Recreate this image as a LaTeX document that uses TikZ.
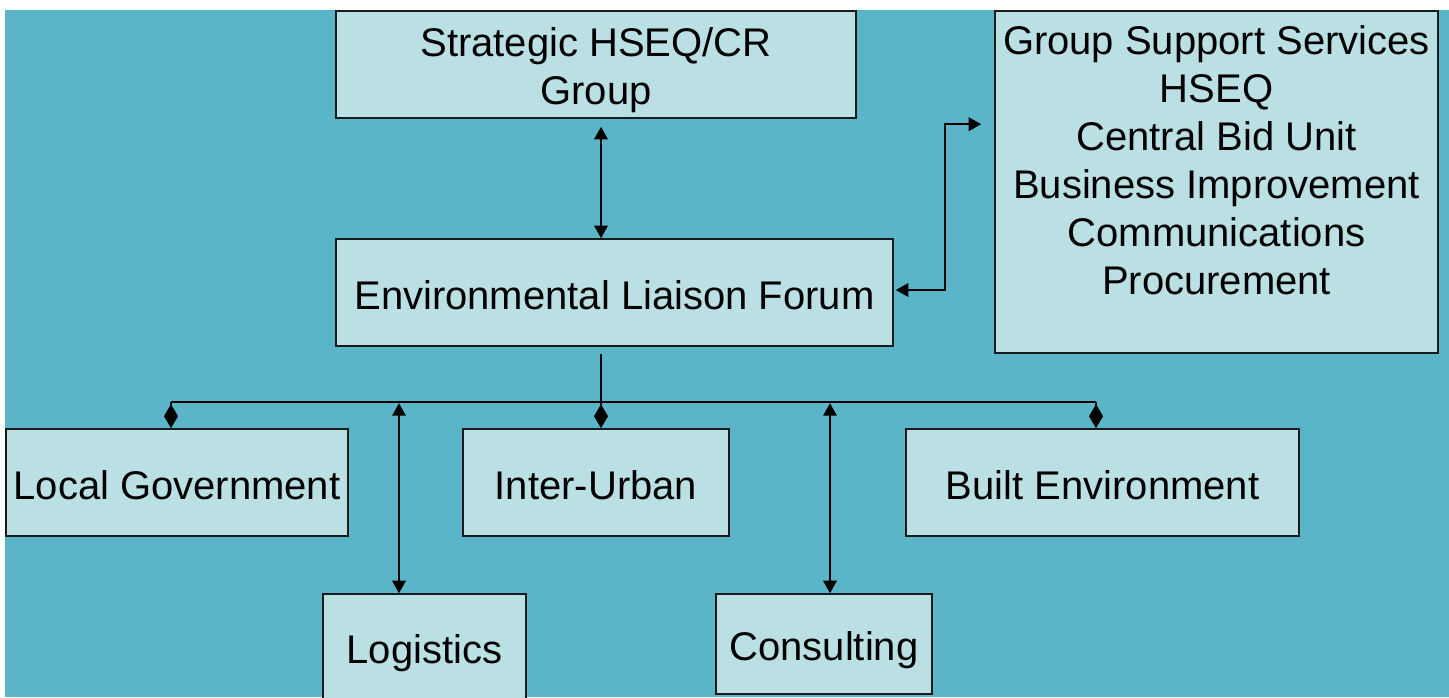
\documentclass[tikz,border=0pt]{standalone}
\usepackage{fontspec}
\setmainfont{Liberation Sans}
\usetikzlibrary{arrows.meta,calc}

\definecolor{slideteal}{HTML}{5AB5C8}
\definecolor{boxfill}{HTML}{BBE0E4}
\definecolor{boxline}{HTML}{1A1A1A}

% lower a one-line caption a little inside its box, keeping its nominal size
\newcommand{\lowered}[2]{\raisebox{-#1}[\height][\depth]{#2}}

\begin{document}
\begin{tikzpicture}[x=1pt,y=-1pt,
  box/.style={draw=boxline, line width=1.6pt, fill=boxfill, inner sep=0pt,
    align=center, font=\fontsize{40}{48}\selectfont},
  label/.style={inner sep=0pt, align=center, font=\fontsize{40}{48}\selectfont},
  link/.style={draw=black, line width=1.8pt},
  tri/.tip={Triangle[length=12.5pt,width=13.5pt]},
  dia/.tip={Diamond[length=24pt,width=14pt]}
]
\useasboundingbox (0,0) rectangle (1449,697);
\clip (0,0) rectangle (1449,697);

% slide background
\fill[white] (0,0) rectangle (1449,697);
\fill[slideteal] (5,10) rectangle (1449,697);

% boxes
\node[box, minimum width=520pt, minimum height=107pt] (strat) at (596,64.5) {};
\node[label] (strattext) at (596,70) {Strategic HSEQ/CR\\Group};
\node[box, minimum width=443pt, minimum height=342pt] (gss) at (1216.5,182) {};
\node[label] (gsslist) at (1216.5,160)
  {Group Support Services\\HSEQ\\Central Bid Unit\\Business Improvement\\Communications\\Procurement};
\node[box, minimum width=557pt, minimum height=107pt] (elf) at (614.5,292.5)
  {\lowered{3pt}{Environmental Liaison Forum}};
\node[box, minimum width=342pt, minimum height=107pt] (lg) at (177,482.5)
  {\lowered{3pt}{Local Government}};
\node[box, minimum width=266pt, minimum height=107pt] (iu) at (596,482.5)
  {\lowered{3pt}{Inter-Urban}};
\node[box, minimum width=393pt, minimum height=107pt] (be) at (1102.5,482.5)
  {\lowered{3pt}{Built Environment}};
\node[box, minimum width=203pt, minimum height=112pt] (log) at (424.5,650)
  {\lowered{3pt}{Logistics}};
\node[box, minimum width=216pt, minimum height=100pt] (con) at (824,644)
  {\lowered{6pt}{Consulting}};

% Strategic group <-> forum
\coordinate (vtop) at ($(strat.south)+(5,8)$);
\draw[link, tri-tri] (vtop) -- (vtop |- elf.north);

% forum <-> support services
\coordinate (ge) at ($(elf.east)+(2,-2.5)$);
\coordinate (gw) at ($(gss.north west)+(-13,114)$);
\draw[link, tri-tri] (ge) -- ++(49,0) |- (gw);

% distribution bus below the forum
\coordinate (stub) at ($(elf.south)+(-13.5,7)$);
\coordinate (busL) at ($(lg.north)+(-6,-26)$);
\coordinate (busR) at ($(be.north)+(-6.5,-26)$);
\draw[link] (busL) -- (busR);
\draw[link, -dia] (busL) -- (busL |- lg.north);
\draw[link, -dia] (stub) -- (stub |- iu.north);
\draw[link, -dia] (busR) -- (busR |- be.north);

% long drops to the lower row
\coordinate (lgx) at ($(log.north)+(-25.5,-190)$);
\coordinate (cnx) at ($(con.north)+(6,-190)$);
\draw[link, tri-tri] (lgx) -- (lgx |- log.north);
\draw[link, tri-tri] (cnx) -- (cnx |- con.north);
\end{tikzpicture}
\end{document}
